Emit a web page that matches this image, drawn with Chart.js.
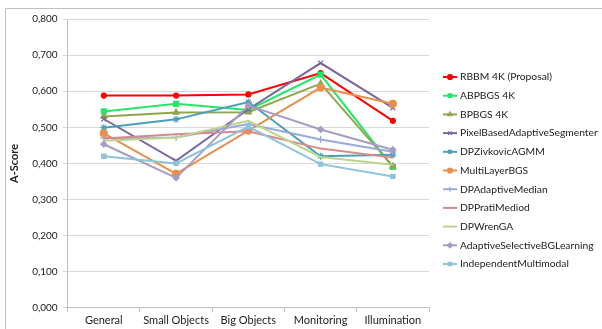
<!DOCTYPE html>
<html>
<head>
<meta charset="utf-8">
<script src="https://cdn.jsdelivr.net/npm/chart.js@4/dist/chart.umd.min.js"></script>
<style>
  html, body { margin: 0; padding: 0; background: #fff; }
  #wrap { width: 602px; height: 329px; position: relative; }
</style>
</head>
<body>
<div id="wrap"><canvas id="score"></canvas></div>
<script>
const categories = ["General", "Small Objects", "Big Objects", "Monitoring", "Illumination"];
const yTicks = [0, 0.1, 0.2, 0.3, 0.4, 0.5, 0.6, 0.7, 0.8];

const rbbm = [0.588, 0.588, 0.591, 0.650, 0.518];
const abpbgs = [0.544, 0.565, 0.548, 0.646, 0.390];
const bpbgs = [0.530, 0.541, 0.542, 0.621, 0.392];
const pixelBased = [0.523, 0.407, 0.550, 0.678, 0.554];
const zivkovic = [0.499, 0.522, 0.570, 0.420, 0.424];
const multiLayer = [0.483, 0.371, 0.491, 0.610, 0.565];
const adaptiveMedian = [0.470, 0.472, 0.509, 0.466, 0.432];
const pratiMediod = [0.469, 0.481, 0.489, 0.441, 0.416];
const wrenGA = [0.463, 0.472, 0.518, 0.418, 0.396];
const adaptiveSelective = [0.453, 0.360, 0.560, 0.494, 0.438];
const independent = [0.420, 0.400, 0.502, 0.398, 0.364];

const seriesNames = [
  "RBBM 4K (Proposal)", "ABPBGS 4K", "BPBGS 4K", "PixelBasedAdaptiveSegmenter",
  "DPZivkovicAGMM", "MultiLayerBGS", "DPAdaptiveMedian", "DPPratiMediod",
  "DPWrenGA", "AdaptiveSelectiveBGLearning", "IndependentMultimodal"
];
const seriesValues = [rbbm, abpbgs, bpbgs, pixelBased, zivkovic, multiLayer,
  adaptiveMedian, pratiMediod, wrenGA, adaptiveSelective, independent];
const seriesColors = ["#FF0000", "#22E86A", "#8FA54E", "#7B66A0", "#4A9EB8", "#E8904A",
  "#9AAAD8", "#D9898A", "#BCD48E", "#A79CC4", "#8CC4DA"];
const markers = ["circle", "rect", "triangle", "crossRot", "star", "circle",
  "cross", false, false, "rectRot", "rect"];
const markerSizes = [2.5, 3.5, 3.5, 3.5, 3.5, 3.5, 3.5, 0, 0, 3, 3];

const uiFont = 'Lato, "Open Sans", sans-serif';

const datasets = seriesNames.map((name, i) => ({
  label: name,
  data: seriesValues[i],
  borderColor: seriesColors[i],
  backgroundColor: seriesColors[i],
  borderWidth: 2,
  pointStyle: markers[i],
  pointRadius: markerSizes[i],
  pointBorderWidth: 1.2,
  tension: 0
})).reverse();

// legend drawn by hand so each entry shows the line with its marker
const sideLegend = {
  id: 'sideLegend',
  afterDraw(chart) {
    const ctx = chart.ctx;
    ctx.save();
    ctx.font = '10.3px ' + uiFont;
    ctx.textBaseline = 'middle';
    seriesNames.forEach((name, i) => {
      const y = 77 + i * 18.7;
      ctx.strokeStyle = seriesColors[i];
      ctx.fillStyle = seriesColors[i];
      ctx.lineWidth = 2;
      ctx.beginPath();
      ctx.moveTo(443, y);
      ctx.lineTo(457, y);
      ctx.stroke();
      if (markers[i]) {
        ctx.lineWidth = 1.2;
        Chart.helpers.drawPoint(ctx, { pointStyle: markers[i], radius: 2.5, rotation: 0, borderWidth: 1.2 }, 450, y);
      }
      ctx.fillStyle = '#222';
      ctx.fillText(name, 460, y);
    });
    // frame of the chart area
    ctx.strokeStyle = '#BFBFBF';
    ctx.lineWidth = 1;
    ctx.beginPath();
    ctx.moveTo(5.5, 340);
    ctx.lineTo(5.5, 8.5);
    ctx.lineTo(610, 8.5);
    ctx.stroke();
    ctx.restore();
  }
};

new Chart(document.getElementById('score'), {
  type: 'line',
  data: { labels: categories, datasets: datasets },
  options: {
    responsive: true,
    maintainAspectRatio: false,
    animation: false,
    layout: { padding: { left: 8, right: 173, top: 19, bottom: 0 } },
    plugins: { legend: { display: false }, tooltip: { enabled: false } },
    scales: {
      x: {
        offset: true,
        grid: { offset: true, drawOnChartArea: false, color: '#BFBFBF', tickLength: 4 },
        border: { color: '#BFBFBF' },
        ticks: { color: '#222', font: { family: uiFont, size: 11 }, maxRotation: 0, padding: 2 }
      },
      y: {
        min: 0,
        max: 0.8,
        afterBuildTicks(axis) { axis.ticks = yTicks.map(v => ({ value: v })); },
        grid: { color: '#D9D9D9', tickLength: 5 },
        border: { color: '#BFBFBF' },
        ticks: {
          color: '#222',
          font: { family: uiFont, size: 10 },
          padding: 5,
          callback: v => v.toFixed(3).replace('.', ',')
        },
        title: {
          display: true,
          text: 'A-Score',
          color: '#222',
          font: { family: uiFont, size: 11, weight: 'bold' },
          padding: { top: 0, bottom: 6 }
        }
      }
    }
  },
  plugins: [sideLegend]
});
</script>
</body>
</html>
